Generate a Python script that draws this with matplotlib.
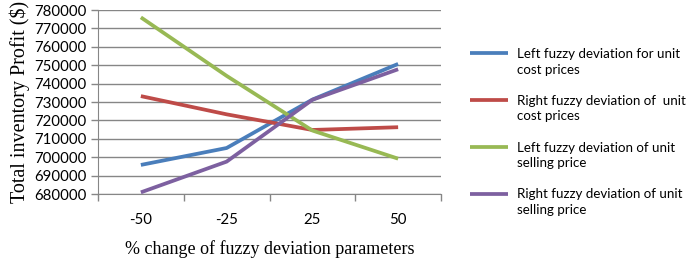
import matplotlib
matplotlib.use("Agg")
import matplotlib.pyplot as plt
from matplotlib.legend_handler import HandlerLine2D
import numpy as np

categories = ["-50", "-25", "25", "50"]
left_cost = [695800, 705000, 731300, 750700]
right_cost = [733200, 723300, 714800, 716300]
left_sell = [776000, 744200, 714500, 699200]
right_sell = [680900, 697600, 731200, 747800]
series_labels = [
    "Left fuzzy deviation for unit\ncost prices",
    "Right fuzzy deviation of  unit\ncost prices",
    "Left fuzzy deviation of unit\nselling price",
    "Right fuzzy deviation of unit\nselling price",
]
colors = ["#4A7EBB", "#BE4B48", "#98B954", "#7D60A0"]
yticks = list(range(680000, 780001, 10000))


class HandlerTop(HandlerLine2D):
    def create_artists(self, legend, orig_handle, xdescent, ydescent, width,
                       height, fontsize, trans):
        arts = super().create_artists(legend, orig_handle, xdescent, ydescent,
                                      width, height, fontsize, trans)
        for a in arts:
            xd, yd = a.get_data()
            a.set_data(xd, np.asarray(yd) + 0.66 * fontsize)
        return arts


fig = plt.figure(figsize=(6.9, 2.6), dpi=100)
ax = fig.add_axes([98/690, 1-194/260, (441-98)/690, (194-10)/260])

x = np.arange(len(categories))
lines = []
for vals, c in zip([left_cost, right_cost, left_sell, right_sell], colors):
    l, = ax.plot(x, vals, color=c, lw=2.7, solid_capstyle="butt", zorder=3)
    lines.append(l)

ax.set_xlim(-0.5, len(categories) - 0.5)
ax.set_ylim(680000, 780000)
ax.set_yticks(yticks)
ax.set_yticklabels([str(v) for v in yticks], fontfamily="Lato", fontsize=10.8)
ax.set_xticks(x)
ax.set_xticklabels(categories, fontfamily="Lato", fontsize=10.8)
ax.set_xticks(np.arange(-0.5, len(categories), 1), minor=True)
ax.tick_params(axis="x", which="major", length=0, pad=14)
ax.tick_params(axis="x", which="minor", length=5, color="#868686", width=1)
ax.tick_params(axis="y", length=5, color="#868686", width=1, pad=3)
ax.yaxis.grid(True, color="#868686", lw=1)
ax.set_axisbelow(True)
for s in ["top", "right"]:
    ax.spines[s].set_visible(False)
for s in ["left", "bottom"]:
    ax.spines[s].set_color("#868686")

ax.set_ylabel("Total inventory Profit ($)", fontfamily="Liberation Serif", fontsize=14.5, labelpad=3)
ax.set_xlabel("% change of fuzzy deviation parameters", fontfamily="Liberation Serif", fontsize=13, labelpad=9)

leg = fig.legend(lines, series_labels, loc="upper left", bbox_to_anchor=(470/690, 1-48/260),
                 frameon=False, prop={"family": "Lato", "size": 9.6},
                 handlelength=2.85, handletextpad=0.68, labelspacing=1.45,
                 borderpad=0, borderaxespad=0,
                 handler_map={matplotlib.lines.Line2D: HandlerTop()})
for t in leg.get_texts():
    t.set_linespacing(1.35)

fig.savefig("out.png", dpi=100)
